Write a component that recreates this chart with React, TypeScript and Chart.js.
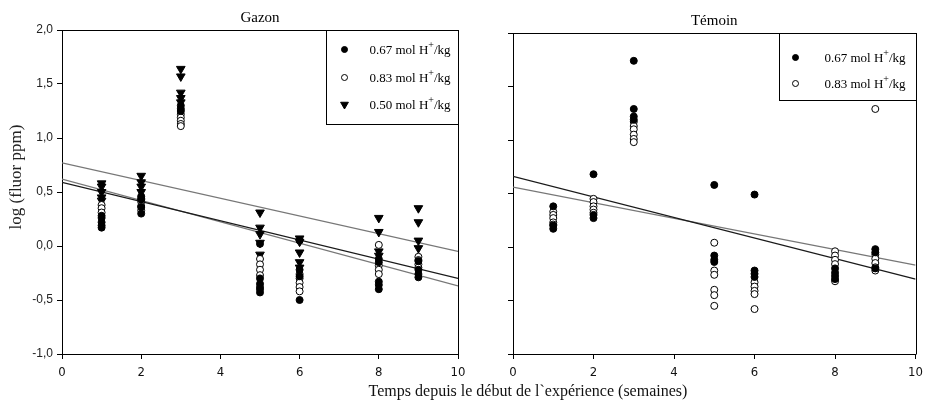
import React, { useEffect, useRef } from "react";
import { Chart, registerables } from "chart.js";

Chart.register(...registerables);

// ---------- data ----------
const weeks = [1, 2, 3, 5, 6, 8, 9];
const xTicks = [0, 2, 4, 6, 8, 10];
const yTicks = [-1, -0.5, 0, 0.5, 1, 1.5, 2];
const seriesNames = ["0.67 mol H", "0.83 mol H", "0.50 mol H"];

// Gazon panel (values per week, same order as `weeks`)
const gazonFilled = [
  [0.28, 0.26, 0.22, 0.19, 0.17],
  [0.46, 0.43, 0.36, 0.3],
  [1.3, 1.27, 1.25],
  [0.02, -0.3, -0.35, -0.4, -0.43],
  [0.05, -0.22, -0.28, -0.5],
  [-0.12, -0.15, -0.33, -0.36, -0.4],
  [-0.14, -0.22, -0.26, -0.29],
];
const gazonOpen = [
  [0.38, 0.35, 0.31],
  [0.44, 0.41, 0.37, 0.33],
  [1.22, 1.19, 1.16, 1.13, 1.11],
  [-0.12, -0.17, -0.22, -0.27, -0.38],
  [-0.26, -0.3, -0.34, -0.38, -0.42],
  [0.01, -0.18, -0.22, -0.26],
  [-0.1, -0.13, -0.17, -0.2],
];
const gazonTri = [
  [0.58, 0.55, 0.5, 0.45, 0.42],
  [0.65, 0.59, 0.55, 0.5],
  [1.64, 1.57, 1.42, 1.37, 1.33],
  [0.31, 0.17, 0.11, 0.03, -0.08],
  [0.07, 0.04, -0.06, -0.15, -0.2],
  [0.26, 0.13, -0.05, -0.09],
  [0.35, 0.22, 0.05, -0.02],
];
// regression lines: value at week 0 and week 10
const gazonLineStart = [0.77, 0.59, 0.62];
const gazonLineEnd = [-0.05, -0.3, -0.37];
const gazonLineColors = ["#777777", "#1a1a1a", "#777777"];

// Témoin panel
const temoinFilled = [
  [0.38, 0.2, 0.17],
  [0.68, 0.3, 0.27],
  [1.74, 1.29, 1.22, 1.19],
  [0.58, -0.08, -0.12, -0.14],
  [0.49, -0.22, -0.25, -0.28],
  [-0.2, -0.24, -0.27, -0.3],
  [-0.02, -0.05, -0.2],
];
const temoinOpen = [
  [0.33, 0.3, 0.27, 0.23, 0.21],
  [0.45, 0.42, 0.38, 0.35, 0.32],
  [1.17, 1.13, 1.1, 1.05, 1.01, 0.98],
  [0.04, -0.22, -0.26, -0.4, -0.45, -0.55],
  [-0.33, -0.37, -0.41, -0.44, -0.58],
  [-0.04, -0.08, -0.12, -0.16, -0.32],
  [1.29, -0.07, -0.11, -0.15, -0.19, -0.22],
];
const temoinLineStart = [0.66, 0.56];
const temoinLineEnd = [-0.3, -0.17];
const temoinLineColors = ["#1a1a1a", "#777777"];

// ---------- helpers ----------
const SERIF = '"Liberation Serif", "Times New Roman", serif';
const SANS = '"Liberation Sans", Arial, sans-serif';
const NARROW = '"Liberation Sans Narrow", "DejaVu Sans Condensed", "Liberation Sans", sans-serif';

function toPoints(groups: number[][]) {
  return groups.flatMap((g, i) => g.map((v) => ({ x: weeks[i], y: v })));
}

const markerStyles = [
  { pointStyle: "circle", pointRadius: 3.5, backgroundColor: "#000", borderColor: "#000", pointRotation: 0 },
  { pointStyle: "circle", pointRadius: 3.5, backgroundColor: "#fff", borderColor: "#000", pointRotation: 0 },
  { pointStyle: "triangle", pointRadius: 5, backgroundColor: "#000", borderColor: "#000", pointRotation: 180 },
];

function pointDataset(groups: number[][], idx: number) {
  const s = markerStyles[idx];
  return {
    type: "scatter" as const,
    label: seriesNames[idx],
    data: toPoints(groups),
    pointStyle: s.pointStyle,
    pointRadius: s.pointRadius,
    pointRotation: s.pointRotation,
    pointBackgroundColor: s.backgroundColor,
    pointBorderColor: s.borderColor,
    pointBorderWidth: 1,
    showLine: false,
    order: 1,
  };
}

function lineDataset(a: number, b: number, color: string) {
  return {
    type: "line" as const,
    label: "reg",
    data: [
      { x: 0, y: a },
      { x: 10, y: b },
    ],
    borderColor: color,
    borderWidth: 1.2,
    pointRadius: 0,
    fill: false,
    order: 2,
  };
}

type LegendCfg = {
  width: number;
  height: number;
  markerDx: number;
  textDx: number;
  rowDy: number[];
  series: number[];
};

function decoPlugin(title: string, yTitle: boolean, legend: LegendCfg) {
  return {
    id: "deco",
    afterDraw(chart: any) {
      const ctx = chart.ctx as CanvasRenderingContext2D;
      const ca = chart.chartArea;
      ctx.save();
      // frame (top + right)
      ctx.strokeStyle = "#000";
      ctx.lineWidth = 1;
      ctx.beginPath();
      ctx.moveTo(Math.round(ca.left) + 0.5, Math.round(ca.top) + 0.5);
      ctx.lineTo(Math.round(ca.right) + 0.5, Math.round(ca.top) + 0.5);
      ctx.lineTo(Math.round(ca.right) + 0.5, Math.round(ca.bottom) + 0.5);
      ctx.stroke();

      // title
      ctx.fillStyle = "#000";
      ctx.font = `15px ${SERIF}`;
      ctx.textAlign = "center";
      ctx.textBaseline = "middle";
      ctx.fillText(title, (ca.left + ca.right) / 2, ca.top - 12);

      // y title
      if (yTitle) {
        ctx.save();
        ctx.translate(17, 177);
        ctx.rotate(-Math.PI / 2);
        ctx.font = `17px ${SERIF}`;
        ctx.fillStyle = "#222";
        ctx.fillText("log (fluor ppm)", 0, 0);
        ctx.restore();
      }

      // legend box
      const bx = Math.round(ca.right - legend.width) + 0.5;
      const by = Math.round(ca.top) + 0.5;
      ctx.fillStyle = "#fff";
      ctx.fillRect(bx, by, legend.width, legend.height);
      ctx.strokeStyle = "#000";
      ctx.lineWidth = 1;
      ctx.strokeRect(bx, by, legend.width, legend.height);

      legend.series.forEach((si, row) => {
        const y = by + legend.rowDy[row];
        const mx = bx + legend.markerDx;
        const s = markerStyles[si];
        ctx.fillStyle = s.backgroundColor;
        ctx.strokeStyle = s.borderColor;
        ctx.lineWidth = 1;
        if (s.pointStyle === "circle") {
          ctx.beginPath();
          ctx.arc(mx, y, 3, 0, Math.PI * 2);
          ctx.fill();
          ctx.stroke();
        } else {
          const r = 4.5;
          ctx.beginPath();
          ctx.moveTo(mx - r * 0.866, y - r * 0.5);
          ctx.lineTo(mx + r * 0.866, y - r * 0.5);
          ctx.lineTo(mx, y + r);
          ctx.closePath();
          ctx.fill();
          ctx.stroke();
        }
        // text with superscript +
        ctx.fillStyle = "#000";
        ctx.textAlign = "left";
        ctx.textBaseline = "alphabetic";
        let tx = bx + legend.textDx;
        const base = y + 4.5;
        ctx.font = `13px ${SERIF}`;
        const t1 = seriesNames[si];
        ctx.fillText(t1, tx, base);
        tx += ctx.measureText(t1).width;
        ctx.font = `10px ${SERIF}`;
        ctx.fillText("+", tx, base - 6);
        tx += ctx.measureText("+").width;
        ctx.font = `13px ${SERIF}`;
        ctx.fillText("/kg", tx, base);
      });
      ctx.restore();
    },
  };
}

function makeScales(showYLabels: boolean, yWidth: number, xHeight: number) {
  return {
    x: {
      type: "linear" as const,
      min: 0,
      max: 10,
      afterBuildTicks: (s: any) => {
        s.ticks = xTicks.map((v) => ({ value: v }));
      },
      afterFit: (s: any) => {
        s.height = xHeight;
      },
      ticks: {
        color: "#111",
        font: { family: NARROW, size: 13 },
        padding: 6,
        maxRotation: 0,
        autoSkip: false,
        callback: (v: any) => String(v),
      },
      grid: { display: true, drawOnChartArea: false, drawTicks: true, tickLength: 5, color: "#000" },
      border: { display: true, color: "#000", width: 1 },
    },
    y: {
      type: "linear" as const,
      min: -1,
      max: 2,
      afterBuildTicks: (s: any) => {
        s.ticks = yTicks.map((v) => ({ value: v }));
      },
      afterFit: (s: any) => {
        s.width = yWidth;
      },
      ticks: {
        color: showYLabels ? "#222" : "rgba(0,0,0,0)",
        font: { family: SANS, size: 12 },
        padding: 4,
        autoSkip: false,
        callback: (v: any) => Number(v).toFixed(1).replace(".", ","),
      },
      grid: { display: true, drawOnChartArea: false, drawTicks: true, tickLength: 5, color: "#000" },
      border: { display: true, color: "#000", width: 1 },
    },
  };
}

function Panel(props: {
  left: number;
  width: number;
  datasets: any[];
  padding: any;
  yWidth: number;
  showYLabels: boolean;
  title: string;
  yTitle: boolean;
  legend: LegendCfg;
}) {
  const ref = useRef<HTMLCanvasElement | null>(null);
  useEffect(() => {
    if (!ref.current) return;
    const chart = new Chart(ref.current, {
      type: "scatter",
      data: { datasets: props.datasets },
      options: {
        responsive: false,
        animation: false,
        devicePixelRatio: 1,
        layout: { padding: props.padding },
        scales: makeScales(props.showYLabels, props.yWidth, 402 - 354 - props.padding.bottom) as any,
        plugins: { legend: { display: false }, tooltip: { enabled: false }, title: { display: false } },
      },
      plugins: [decoPlugin(props.title, props.yTitle, props.legend)],
    } as any);
    return () => chart.destroy();
  }, []);
  return (
    <canvas
      ref={ref}
      width={props.width}
      height={402}
      style={{ position: "absolute", left: props.left, top: 0, width: props.width, height: 402 }}
    />
  );
}

export default function App() {
  const gazonDatasets = [
    pointDataset(gazonFilled, 0),
    pointDataset(gazonOpen, 1),
    pointDataset(gazonTri, 2),
    ...gazonLineStart.map((a, i) => lineDataset(a, gazonLineEnd[i], gazonLineColors[i])),
  ];
  const temoinDatasets = [
    pointDataset(temoinFilled, 0),
    pointDataset(temoinOpen, 1),
    ...temoinLineStart.map((a, i) => lineDataset(a, temoinLineEnd[i], temoinLineColors[i])),
  ];
  return (
    <div
      style={{
        position: "absolute",
        left: 0,
        top: 0,
        width: 929,
        height: 402,
        background: "#fff",
        overflow: "hidden",
      }}
    >
      <Panel
        left={0}
        width={490}
        datasets={gazonDatasets}
        padding={{ top: 30, right: 32, left: 0, bottom: 0 }}
        yWidth={62}
        showYLabels={true}
        title="Gazon"
        yTitle={true}
        legend={{ width: 132, height: 94, markerDx: 18, textDx: 43, rowDy: [19, 47, 74], series: [0, 1, 2] }}
      />
      <Panel
        left={490}
        width={439}
        datasets={temoinDatasets}
        padding={{ top: 33, right: 9, left: 0, bottom: 0 }}
        yWidth={23}
        showYLabels={false}
        title="Témoin"
        yTitle={false}
        legend={{ width: 137, height: 67, markerDx: 16, textDx: 45, rowDy: [24, 50], series: [0, 1] }}
      />
      <div
        style={{
          position: "absolute",
          left: 278,
          top: 382,
          width: 500,
          textAlign: "center",
          fontFamily: SERIF,
          fontSize: 16,
          lineHeight: "18px",
          color: "#111",
          whiteSpace: "nowrap",
        }}
      >
        Temps depuis le début de l`expérience (semaines)
      </div>
    </div>
  );
}
